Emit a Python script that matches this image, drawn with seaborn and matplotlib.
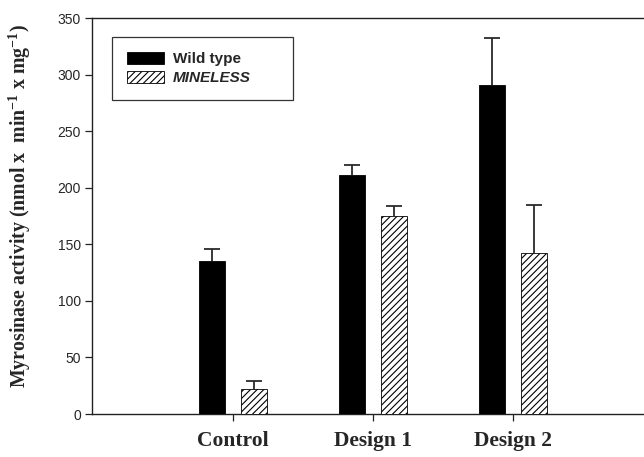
import matplotlib
matplotlib.use("Agg")
import matplotlib.pyplot as plt
import seaborn as sns
import pandas as pd
import numpy as np
from matplotlib.patches import Patch

categories = ["Control", "Design 1", "Design 2"]
genotypes = ["Wild type", "MINELESS"]
wild_values = [135, 211, 291]
wild_err = [11, 9, 41]
mineless_values = [22, 175, 142]
mineless_err = [7, 9, 43]
y_ticks = [0, 50, 100, 150, 200, 250, 300, 350]

df = pd.DataFrame({
    "group": categories * 2,
    "genotype": [genotypes[0]] * 3 + [genotypes[1]] * 3,
    "value": wild_values + mineless_values,
})
errs = {genotypes[0]: wild_err, genotypes[1]: mineless_err}

sns.set_style("ticks")
plt.rcParams["hatch.linewidth"] = 0.8

fig = plt.figure(figsize=(6.44, 4.57), dpi=100)
ax = fig.add_axes([92 / 644, 1 - 414 / 457, 552 / 644, 396 / 457])

sns.barplot(data=df, x="group", y="value", hue="genotype", order=categories,
            hue_order=genotypes, palette=["black", "white"], width=0.6, gap=0.38,
            errorbar=None, edgecolor="black", linewidth=0.6, legend=False, ax=ax)

for cont, g in zip(ax.containers, genotypes):
    xs = []
    for p in cont.patches:
        xs.append(p.get_x() + p.get_width() / 2)
        p.set_zorder(3)
        if g == "MINELESS":
            p.set_hatch("/////")
            p.set_facecolor("white")
    vals = [p.get_height() for p in cont.patches]
    e = errs[g]
    eb = ax.errorbar(xs, vals, yerr=[np.zeros(len(e)), e], fmt="none", ecolor="#2a2a2a",
                     elinewidth=1.3, capsize=6, capthick=1.3, zorder=2)
    eb[1][0].set_visible(False)

ax.set_xlim(-1.007, 2.936)
ax.set_ylim(0, 350)
ax.set_yticks(y_ticks)
ax.set_yticklabels([str(t) for t in y_ticks], fontfamily="Liberation Sans", fontsize=10)
ax.set_xticks(range(len(categories)))
ax.set_xticklabels(categories, fontfamily="Liberation Serif", fontweight="bold", fontsize=15.5)
ax.tick_params(axis="both", direction="out", length=5, width=0.9, color="#222222", pad=3)
ax.tick_params(axis="x", pad=7)
ax.set_xlabel("")
ax.set_ylabel("Myrosinase activity (nmol x  min$^{\\mathregular{-1}}$ x mg$^{\\mathregular{-1}}$)",
              fontfamily="Liberation Serif", fontweight="bold", fontsize=14.3)
ax.yaxis.set_label_coords(-0.106, 0.526)
for side in ["left", "bottom", "top"]:
    ax.spines[side].set_visible(True)
    ax.spines[side].set_linewidth(1.0)
    ax.spines[side].set_color("#222222")
ax.spines["right"].set_visible(False)

handles = [Patch(facecolor="black", edgecolor="black", linewidth=0.6),
           Patch(facecolor="white", edgecolor="black", hatch="/////", linewidth=0.6)]
leg = ax.legend(handles, ["Wild type", "MINELESS"], loc="upper left",
                bbox_to_anchor=(0.036, 0.952, 0.328, 0.0), mode="expand",
                frameon=True, fancybox=False,
                edgecolor="black", handlelength=2.4, handleheight=0.8,
                borderpad=1.0, labelspacing=0.3, handletextpad=0.6, borderaxespad=0,
                prop={"family": "Liberation Sans", "weight": "bold", "size": 11})
leg.get_frame().set_linewidth(0.9)
leg.get_texts()[1].set_fontstyle("italic")

fig.savefig("out.png", dpi=100)
